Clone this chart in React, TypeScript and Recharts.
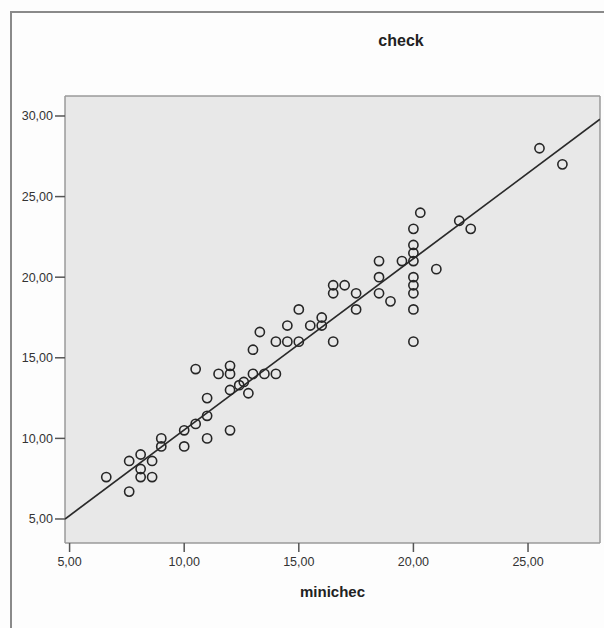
import React from 'react';
import { ScatterChart, Scatter, XAxis, YAxis, CartesianGrid, ReferenceLine, Label } from 'recharts';

// minichec (x) and check (y), one entry per case
const minichec = [
  6.6, 7.6, 7.6, 8.1, 8.1, 8.1, 8.6, 8.6, 9.0, 9.0,
  10.0, 10.0, 10.5, 10.5, 11.0, 11.0, 11.0, 11.5, 12.0, 12.0,
  12.0, 12.0, 12.4, 12.6, 12.8, 13.0, 13.0, 13.3, 13.5, 14.0,
  14.0, 14.5, 14.5, 15.0, 15.0, 15.5, 16.0, 16.0, 16.5, 16.5,
  16.5, 17.0, 17.5, 17.5, 18.5, 18.5, 18.5, 19.0, 19.5, 20.0,
  20.0, 20.0, 20.0, 20.0, 20.0, 20.0, 20.0, 20.0, 20.3, 21.0,
  22.0, 22.5, 25.5, 26.5,
];
const check = [
  7.6, 8.6, 6.7, 9.0, 8.1, 7.6, 8.6, 7.6, 10.0, 9.5,
  10.5, 9.5, 14.3, 10.9, 12.5, 11.4, 10.0, 14.0, 14.5, 14.0,
  13.0, 10.5, 13.3, 13.5, 12.8, 15.5, 14.0, 16.6, 14.0, 16.0,
  14.0, 17.0, 16.0, 18.0, 16.0, 17.0, 17.5, 17.0, 16.0, 19.5,
  19.0, 19.5, 19.0, 18.0, 21.0, 20.0, 19.0, 18.5, 21.0, 23.0,
  22.0, 21.5, 21.0, 20.0, 19.5, 19.0, 18.0, 16.0, 24.0, 20.5,
  23.5, 23.0, 28.0, 27.0,
];

const xTicks = [5, 10, 15, 20, 25];
const yTicks = [5, 10, 15, 20, 25, 30];
const xDomain = [4.8, 28.14];
const yDomain = [3.51, 31.24];

// fit line: check = intercept + slope * minichec
const intercept = -0.1;
const slope = 1.0625;

const points = minichec.map((x, i) => ({ x, y: check[i] }));
const fmt = (v: number) => v.toFixed(2).replace('.', ',');

const font = '"Liberation Sans", Arial, sans-serif';

const Ring = (props: any) => {
  const { cx, cy } = props;
  return <circle cx={cx} cy={cy} r={4.6} fill="none" stroke="#262626" strokeWidth={1.6} />;
};

export default function App() {
  return (
    <div style={{ position: 'absolute', left: 0, top: 0, width: 604, height: 628, background: '#fdfdfd', overflow: 'hidden', fontFamily: font }}>
      <div style={{ position: 'absolute', left: 10, top: 11, width: 620, height: 640, borderLeft: '2px solid #8a8a8a', borderTop: '2px solid #8a8a8a' }} />
      <div style={{ position: 'absolute', left: 301, width: 200, top: 32, textAlign: 'center', fontSize: 16, fontWeight: 'bold', color: '#222' }}>
        check
      </div>
      <div style={{ position: 'absolute', left: 0, top: 0 }}>
        <ScatterChart width={604} height={628} margin={{ top: 96, right: 4, bottom: 0, left: 0 }}>
          <CartesianGrid
            fill="#e8e8e8"
            fillOpacity={1}
            stroke="#9a9a9a"
            strokeWidth={1.5}
            horizontalCoordinatesGenerator={({ offset }: any) => [offset.top, offset.top + offset.height]}
            verticalCoordinatesGenerator={({ offset }: any) => [offset.left, offset.left + offset.width]}
          />
          <XAxis
            type="number"
            dataKey="x"
            domain={xDomain}
            ticks={xTicks}
            allowDataOverflow
            height={85}
            tickSize={9}
            tickMargin={5}
            tickFormatter={fmt}
            tick={{ fill: '#333', fontSize: 12.5, fontFamily: font }}
            tickLine={{ stroke: '#555', strokeWidth: 1.5 }}
            axisLine={false}
          >
            <Label value="minichec" position="insideBottom" offset={31} style={{ fontSize: 15, fontWeight: 'bold', fill: '#222', fontFamily: font }} />
          </XAxis>
          <YAxis
            type="number"
            dataKey="y"
            domain={yDomain}
            ticks={yTicks}
            allowDataOverflow
            width={65}
            tickSize={10}
            tickFormatter={fmt}
            tick={{ fill: '#333', fontSize: 12.5, fontFamily: font }}
            tickLine={{ stroke: '#555', strokeWidth: 1.5 }}
            axisLine={false}
          />
          <ReferenceLine
            segment={[
              { x: xDomain[0], y: intercept + slope * xDomain[0] },
              { x: xDomain[1], y: intercept + slope * xDomain[1] },
            ]}
            stroke="#2a2a2a"
            strokeWidth={1.7}
            ifOverflow="hidden"
          />
          <Scatter data={points} shape={<Ring />} isAnimationActive={false} />
        </ScatterChart>
      </div>
    </div>
  );
}
